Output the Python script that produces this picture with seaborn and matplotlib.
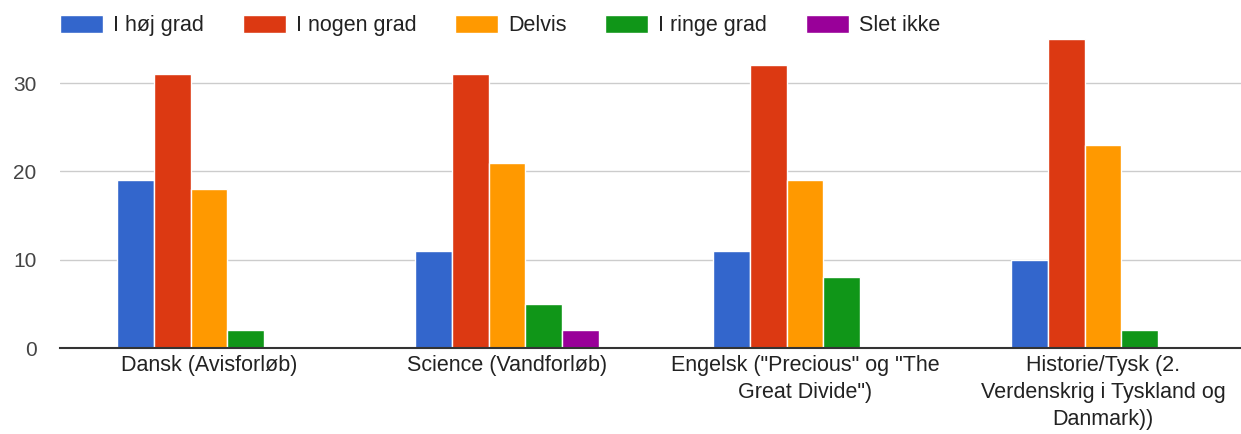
import matplotlib
matplotlib.use("Agg")
import matplotlib.pyplot as plt
import seaborn as sns
import pandas as pd

categories = ["Dansk (Avisforløb)", "Science (Vandforløb)",
              "Engelsk (\"Precious\" og \"The\nGreat Divide\")",
              "Historie/Tysk (2.\nVerdenskrig i Tyskland og\nDanmark))"]
series = ["I høj grad", "I nogen grad", "Delvis", "I ringe grad", "Slet ikke"]
hoej_grad = [19, 11, 11, 10]
nogen_grad = [31, 31, 32, 35]
delvis = [18, 21, 19, 23]
ringe_grad = [2, 5, 8, 2]
slet_ikke = [0, 2, 0, 0]
colors = ["#3366cc", "#dc3912", "#ff9900", "#109618", "#990099"]
yticks = [0, 10, 20, 30]

values = [hoej_grad, nogen_grad, delvis, ringe_grad, slet_ikke]
rows = []
for s, vals in zip(series, values):
    for c, v in zip(categories, vals):
        rows.append({"cat": c, "series": s, "val": v})
df = pd.DataFrame(rows)

sns.set_theme(style="white")
plt.rcParams['font.family'] = ['Liberation Sans', 'DejaVu Sans']

fig = plt.figure(figsize=(12.41, 4.34), dpi=100)
ax = fig.add_axes([60/1241, (434-348)/434, (1241-60)/1241, (348-39)/434])

sns.barplot(data=df, x="cat", y="val", hue="series", order=categories,
            hue_order=series, palette=colors, width=0.62, ax=ax,
            edgecolor="white", linewidth=1, saturation=1, legend=True)

ax.set_xlim(-0.5, -0.5 + 1181/298)
ax.set_ylim(0, 35)
ax.set_yticks(yticks)
ax.set_yticklabels([str(t) for t in yticks], fontsize=15, color="#444444")
ax.tick_params(axis="y", length=0, pad=17)
ax.tick_params(axis="x", length=0, pad=5, labelsize=15.5, labelcolor="#222222")
ax.set_xlabel("")
ax.set_ylabel("")
for sp in ["left", "right", "top"]:
    ax.spines[sp].set_visible(False)
ax.spines["bottom"].set_color("#333333")
ax.spines["bottom"].set_linewidth(1.5)
ax.spines["bottom"].set_zorder(5)
ax.grid(axis="y", color="#cccccc", linewidth=1)
ax.set_axisbelow(True)
for lbl in ax.get_xticklabels():
    lbl.set_linespacing(1.38)

handles, labels = ax.get_legend_handles_labels()
ax.legend_.remove()
fig.legend(handles, labels, loc="upper left", bbox_to_anchor=(60/1241, 1 - 15/434),
           ncol=5, frameon=False, fontsize=15.5, handlelength=2.0,
           handleheight=0.88, handletextpad=0.46, columnspacing=1.8,
           borderpad=0, borderaxespad=0, labelcolor="#222222")

fig.savefig("out.png", dpi=100, facecolor="white")
